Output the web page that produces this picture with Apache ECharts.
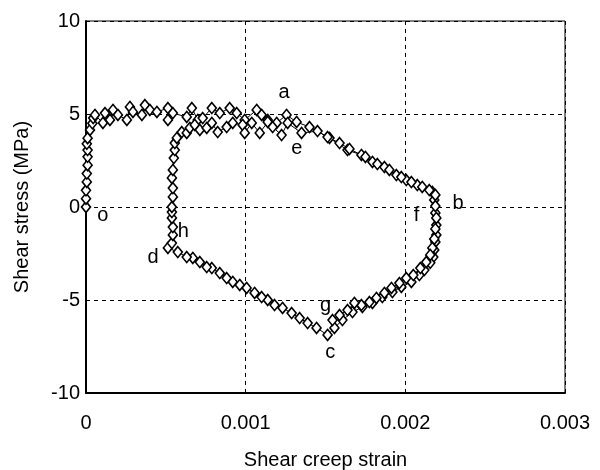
<!DOCTYPE html>
<html>
<head>
<meta charset="utf-8">
<script src="https://cdn.jsdelivr.net/npm/echarts@6/dist/echarts.min.js"></script>
<style>
html, body { margin: 0; padding: 0; background: #fff; }
#chart { width: 600px; height: 470px; }
</style>
</head>
<body>
<div id="chart"></div>
<script>
// shear creep strain of each measured point, in loading order o-a-b-c-d-h-e-b-f-g
var strain = [
	// o -> a
	0, 0, 0, 0.000005, 0.000005, 0.00001, 0.00001, 0.00001, 0.000005, 0.00001, 0.000025, 0.00004, 0.000045,
	0.000056, 0.000106, 0.000119, 0.00015, 0.000169, 0.0002, 0.000256, 0.000275, 0.000294, 0.00035,
	0.000369, 0.0004, 0.000444, 0.000513, 0.000513, 0.000544, 0.000631, 0.000663, 0.0007, 0.000731,
	0.000788, 0.000838, 0.0009, 0.000944, 0.000994, 0.001069, 0.0011, 0.001138, 0.001194, 0.001256,
	0.001319, 0.0014,
	// a -> b
	0.001525, 0.001638, 0.001725, 0.001794, 0.001869, 0.001944, 0.002006, 0.002075, 0.002169,
	// b -> c
	0.002181, 0.002188, 0.002194, 0.002194, 0.002188, 0.002181, 0.002175, 0.002156, 0.002119, 0.002088,
	0.002038, 0.001975, 0.001919, 0.001856, 0.001794, 0.001731, 0.001669, 0.001606, 0.001556, 0.001513,
	// c -> d
	0.001444, 0.001388, 0.001338, 0.001288, 0.001231, 0.001181, 0.001138, 0.0011, 0.001056, 0.001006,
	0.000963, 0.000919, 0.000881, 0.000838, 0.000788, 0.000756, 0.000713, 0.000669, 0.000631, 0.000575,
	0.000513,
	// d -> h -> e
	0.000538, 0.000544, 0.000544, 0.000538, 0.000538, 0.000538, 0.000544, 0.000544, 0.000538, 0.000544,
	0.00055, 0.000556, 0.000556, 0.000569, 0.0006, 0.000631, 0.00065, 0.000681, 0.000713, 0.000756,
	0.000788, 0.000825, 0.000881, 0.000919, 0.000981, 0.000994, 0.001038, 0.001088, 0.001138, 0.001169,
	0.001225, 0.001263, 0.00135,
	// e -> b
	0.00145, 0.001513, 0.001588, 0.00165, 0.00175, 0.001825, 0.0019, 0.001975, 0.002038, 0.002106,
	0.00215, 0.002188,
	// b -> f -> g
	0.002188, 0.002194, 0.002188, 0.002181, 0.002169, 0.002156, 0.002131, 0.002094, 0.00205, 0.002006,
	0.001963, 0.001913, 0.001869, 0.001819, 0.001775, 0.001725, 0.001681, 0.001638, 0.001588, 0.001544
];
// shear stress (MPa) of each point
var stress = [
	// o -> a
	0, 0.45, 0.9, 1.35, 1.8, 2.25, 2.7, 3.06, 3.4, 3.7, 4.14, 4.5, 4.78,
	4.95, 4.52, 5.05, 4.68, 5.22, 4.95, 4.68, 5.38, 5.11, 4.95,
	5.48, 5.22, 5.11, 5.32, 4.68, 5.05, 4.84, 5.32, 4.68, 4.78,
	5.32, 5.05, 5.32, 5.05, 4.68, 5.22, 4.95, 4.68, 4.52, 4.95,
	4.57, 4.3,
	// a -> b
	3.71, 3.06, 2.8, 2.42, 2.15, 1.72, 1.45, 1.18, 0.81,
	// b -> c
	0.38, -0.32, -0.97, -1.5, -1.88, -2.31, -2.69, -3.0, -3.39, -3.66,
	-4.03, -4.3, -4.57, -4.84, -5.16, -5.38, -5.65, -6.08, -6.5, -6.88,
	// c -> d
	-6.5, -6.24, -5.97, -5.7, -5.43, -5.27, -5.0, -4.84, -4.62, -4.35,
	-4.19, -4.03, -3.82, -3.55, -3.28, -3.23, -2.96, -2.74, -2.69, -2.42,
	-2.2,
	// d -> h -> e
	-1.94, -1.5, -1.08, -0.59, -0.27, 0, 0.54, 1.02, 1.56, 1.99,
	2.63, 3.06, 3.44, 3.71, 4.03, 3.98, 4.25, 4.41, 4.14, 4.25,
	4.52, 4.03, 4.3, 4.52, 4.41, 3.98, 4.52, 3.98, 4.57, 4.3,
	3.87, 4.52, 3.98,
	// e -> b
	4.08, 3.76, 3.44, 3.12, 2.69, 2.31, 1.99, 1.61, 1.34, 1.08,
	0.91, 0.65,
	// b -> f -> g
	0.05, -0.59, -1.18, -1.72, -2.2, -2.58, -2.96, -3.28, -3.66, -3.82,
	-4.09, -4.35, -4.62, -4.89, -5.11, -5.27, -5.16, -5.54, -5.81, -6.08
];

// point letters and where they sit
var letterNames = ['o', 'a', 'b', 'c', 'd', 'e', 'f', 'g', 'h'];
var letterX = [0.000106, 0.00124, 0.00233, 0.00153, 0.00042, 0.00132, 0.00207, 0.0015, 0.00061];
var letterY = [-0.43, 6.18, 0.2, -7.8, -2.7, 3.17, -0.43, -5.27, -1.34];

var xTicks = [0, 0.001, 0.002, 0.003];
var yTicks = [-10, -5, 0, 5, 10];

var points = [];
for (var i = 0; i < strain.length; i++) {
	points.push([strain[i], stress[i]]);
}
var letters = [];
for (var j = 0; j < letterNames.length; j++) {
	letters.push({ value: [letterX[j], letterY[j]], name: letterNames[j] });
}

var font = 'Liberation Sans';
var myChart = echarts.init(document.getElementById('chart'), null, { renderer: 'canvas' });
var option = {
	backgroundColor: '#fff',
	animation: false,
	grid: {
		left: 86, right: 35, top: 21, bottom: 77,
		outerBoundsMode: 'none',
		containLabel: false,
		show: true, borderColor: '#000', borderWidth: 1
	},
	xAxis: {
		type: 'value',
		min: xTicks[0],
		max: xTicks[xTicks.length - 1],
		interval: 0.001,
		name: 'Shear creep strain',
		nameLocation: 'middle',
		nameGap: 57,
		nameTextStyle: { fontFamily: font, fontSize: 20, color: '#000' },
		axisLine: { onZero: false, lineStyle: { color: '#000', width: 2 } },
		axisTick: { show: false },
		axisLabel: {
			margin: 20, fontFamily: font, fontSize: 20, color: '#000',
			formatter: function(v) { return v == 0 ? '0' : v.toFixed(3); }
		},
		splitLine: { lineStyle: { color: '#000', type: [4, 4], width: 1 } }
	},
	yAxis: {
		type: 'value',
		min: yTicks[0],
		max: yTicks[yTicks.length - 1],
		interval: 5,
		name: 'Shear stress (MPa)',
		nameLocation: 'middle',
		nameGap: 54,
		nameTextStyle: { fontFamily: font, fontSize: 20, color: '#000' },
		axisLine: { onZero: false, lineStyle: { color: '#000', width: 2 } },
		axisTick: { show: false },
		axisLabel: { margin: 6, fontFamily: font, fontSize: 20, color: '#000' },
		splitLine: { lineStyle: { color: '#000', type: [4, 4], width: 1 } }
	},
	series: [{
		type: 'line',
		data: points,
		symbol: 'diamond',
		symbolSize: [9, 11],
		showAllSymbol: true,
		lineStyle: { color: '#000', width: 1 },
		itemStyle: { color: '#fff', borderColor: '#000', borderWidth: 1.6 },
		z: 3
	}, {
		type: 'scatter',
		data: letters,
		symbolSize: 0,
		itemStyle: { opacity: 1 },
		label: {
			show: true, position: 'inside',
			formatter: '{b}', fontFamily: font, fontSize: 20, color: '#000'
		},
		z: 4
	}]
};
myChart.setOption(option, true);
</script>
</body>
</html>
